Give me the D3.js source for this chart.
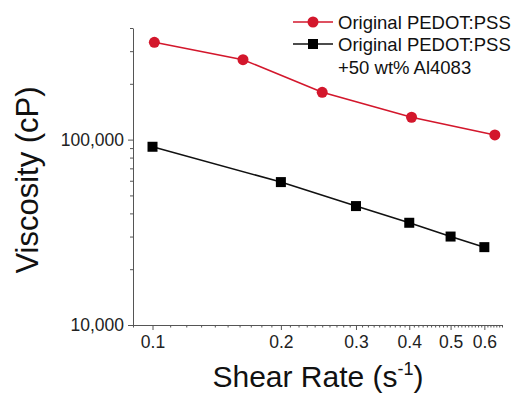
<!DOCTYPE html>
<html lang="en">
<head>
  <meta charset="UTF-8">
  <title>Viscosity vs Shear Rate</title>
  <script src="https://d3js.org/d3.v7.min.js"></script>
  <style>
    body { margin: 0; background: #fff; font-family: "Liberation Sans", Arial, sans-serif; }
    .axis path, .axis line { stroke: #555; }
    .axis text { font-family: "Liberation Sans", Arial, sans-serif; fill: #222; }
  </style>
</head>
<body>
  <div id="chart"></div>
  <script>
    // data
    const pristineRate = [0.101, 0.163, 0.25, 0.405, 0.635];
    const pristineVisc = [335000, 270000, 180000, 132000, 106000];
    const blendRate = [0.1, 0.2, 0.3, 0.4, 0.5, 0.6];
    const blendVisc = [91500, 59000, 43800, 35600, 30000, 26300];

    const xMajor = [0.1, 0.2, 0.3, 0.4, 0.5, 0.6];
    const yMajor = [10000, 100000];
    const legendLabels = ["Original PEDOT:PSS", "Original PEDOT:PSS", "+50 wt% Al4083"];

    const W = 514, H = 396;
    const margin = { top: 28, right: 12, bottom: 71, left: 133 };
    const width = W - margin.left - margin.right;
    const height = H - margin.top - margin.bottom;

    const svg = d3.select("#chart").append("svg")
      .attr("width", W).attr("height", H);
    const g = svg.append("g").attr("transform", `translate(${margin.left},${margin.top})`);

    const x = d3.scaleLog().domain([0.09, 0.66]).range([0, width]);
    const y = d3.scaleLog().domain([10000, 400000]).range([height, 0]);

    // minor ticks
    const xMinor = d3.range(9, 67).map(d => d / 100).filter(d => !xMajor.some(m => Math.abs(m - d) < 1e-9));
    const yMinor = [20000, 30000, 40000, 50000, 60000, 70000, 80000, 90000, 200000, 300000, 400000];

    g.append("g").attr("class", "axis")
      .attr("transform", `translate(0,${height})`)
      .call(d3.axisBottom(x).tickValues(xMinor).tickSize(2.5).tickFormat(""))
      .call(a => a.select(".domain").remove());
    g.append("g").attr("class", "axis")
      .attr("transform", `translate(0,${height})`)
      .call(d3.axisBottom(x).tickValues(xMajor).tickSize(5).tickSizeOuter(0).tickPadding(6).tickFormat(d3.format(".1f")))
      .call(a => a.selectAll("text").style("font-size", "17.5px"));

    g.append("g").attr("class", "axis")
      .call(d3.axisLeft(y).tickValues(yMinor).tickSize(3).tickFormat(""))
      .call(a => a.select(".domain").remove());
    g.append("g").attr("class", "axis")
      .call(d3.axisLeft(y).tickValues(yMajor).tickSize(5).tickSizeOuter(0).tickPadding(4).tickFormat(d3.format(",")))
      .call(a => a.selectAll("text").style("font-size", "17.5px"));

    const red = "#d3172c";
    const line = d3.line().x(d => x(d[0])).y(d => y(d[1]));
    const pristine = pristineRate.map((r, i) => [r, pristineVisc[i]]);
    const blend = blendRate.map((r, i) => [r, blendVisc[i]]);

    g.append("path").datum(blend).attr("d", line)
      .attr("fill", "none").attr("stroke", "#111").attr("stroke-width", 1.6);
    g.selectAll(".sq").data(blend).enter().append("rect")
      .attr("x", d => x(d[0]) - 5).attr("y", d => y(d[1]) - 5)
      .attr("width", 10).attr("height", 10).attr("fill", "#000");

    g.append("path").datum(pristine).attr("d", line)
      .attr("fill", "none").attr("stroke", red).attr("stroke-width", 1.6);
    g.selectAll(".dot").data(pristine).enter().append("circle")
      .attr("cx", d => x(d[0])).attr("cy", d => y(d[1])).attr("r", 5.5).attr("fill", red);

    // axis titles
    const xt = svg.append("text")
      .attr("x", 318).attr("y", 387).attr("text-anchor", "middle")
      .style("font-size", "30px").attr("fill", "#111");
    xt.append("tspan").text("Shear Rate (s");
    xt.append("tspan").attr("dy", -12).style("font-size", "18px").text("-1");
    xt.append("tspan").attr("dy", 12).text(")");

    svg.append("text")
      .attr("transform", "translate(38,180) rotate(-90)")
      .attr("text-anchor", "middle").style("font-size", "31px").attr("fill", "#111")
      .text("Viscosity (cP)");

    // legend
    const lg = svg.append("g");
    lg.append("line").attr("x1", 293).attr("x2", 333).attr("y1", 22).attr("y2", 22)
      .attr("stroke", red).attr("stroke-width", 1.6);
    lg.append("circle").attr("cx", 313).attr("cy", 22).attr("r", 5.5).attr("fill", red);
    lg.append("line").attr("x1", 293).attr("x2", 333).attr("y1", 44).attr("y2", 44)
      .attr("stroke", "#111").attr("stroke-width", 1.6);
    lg.append("rect").attr("x", 308).attr("y", 39).attr("width", 10).attr("height", 10).attr("fill", "#000");
    lg.selectAll(".lt").data(legendLabels).enter().append("text")
      .attr("x", 338).attr("y", (d, i) => 28.5 + i * 22.5)
      .style("font-size", "18.5px").attr("fill", "#111")
      .text(d => d);
  </script>
</body>
</html>
